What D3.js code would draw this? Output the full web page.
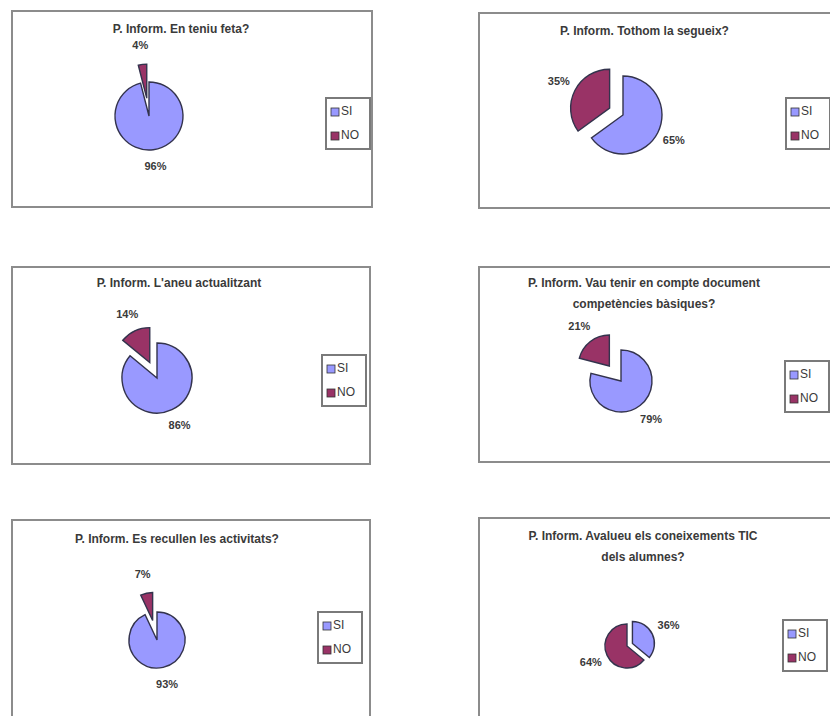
<!DOCTYPE html>
<html>
<head>
<meta charset="utf-8">
<script src="https://cdn.jsdelivr.net/npm/d3@7/dist/d3.min.js"></script>
<style>
  body { margin: 0; background: #ffffff; }
  svg text { font-family: "Liberation Sans", Arial, sans-serif; fill: #3a3a3a; }
</style>
</head>
<body>
<svg id="chart" width="830" height="716"></svg>
<script>
// data
var titles = [
    ["P. Inform. En teniu feta?"],
    ["P. Inform. Tothom la segueix?"],
    ["P. Inform. L'aneu actualitzant"],
    ["P. Inform. Vau tenir en compte document", "competències bàsiques?"],
    ["P. Inform. Es recullen les activitats?"],
    ["P. Inform. Avalueu els coneixements TIC", "dels alumnes?"]
];
var categories = ["SI", "NO"];
var siValues = [96, 65, 86, 79, 93, 36];
var noValues = [4, 35, 14, 21, 7, 64];

// layout of each panel
var panels = [
    { box: [12, 11, 360, 196], cx: 149, cy: 116, r: 34, explode: 1, off: 18, legend: [326, 98], titleY: 30 },
    { box: [479, 13, 360, 195], cx: 623, cy: 115, r: 39, explode: 1, off: 15, legend: [786, 98], titleY: 32 },
    { box: [12, 267, 358, 197], cx: 157, cy: 378, r: 35, explode: 1, off: 17, legend: [322, 355], titleY: 284 },
    { box: [479, 267, 360, 195], cx: 621, cy: 381, r: 31, explode: 1, off: 19, legend: [785, 361], titleY: 284 },
    { box: [12, 520, 358, 220], cx: 157, cy: 640, r: 28, explode: 1, off: 20, legend: [318, 612], titleY: 540 },
    { box: [479, 518, 360, 220], cx: 627, cy: 646, r: 22, explode: 0, off: 6, legend: [783, 620], titleY: 537 }
];

var color = d3.scaleOrdinal().domain(categories).range(["#9999ff", "#993366"]);

var svg = d3.select("#chart");

var pie = d3.pie()
    .sort(null)
    .value(function (d) { return d.value; });

panels.forEach(function (p, i) {
    var g = svg.append("g");

    g.append("rect")
        .attr("x", p.box[0])
        .attr("y", p.box[1])
        .attr("width", p.box[2])
        .attr("height", p.box[3])
        .attr("fill", "#ffffff")
        .attr("stroke", "#8c8c8c")
        .attr("stroke-width", 2);

    // title, centered on the plot area
    var tx = p.box[0] + (p.legend[0] - p.box[0]) / 2 + 12;
    titles[i].forEach(function (line, k) {
        g.append("text")
            .attr("x", tx)
            .attr("y", p.titleY + k * 21)
            .attr("text-anchor", "middle")
            .attr("dominant-baseline", "middle")
            .attr("font-size", 12)
            .attr("font-weight", "bold")
            .attr("fill", "#505050")
            .text(line);
    });

    var rows = categories.map(function (c, j) {
        return { cat: c, value: j == 0 ? siValues[i] : noValues[i] };
    });
    var arcs = pie(rows);

    var arc = d3.arc().innerRadius(0).outerRadius(p.r);
    var labelArc = d3.arc();

    arcs.forEach(function (a, j) {
        var mid = (a.startAngle + a.endAngle) / 2;
        var e = (j == p.explode) ? p.off : 0;
        var dx = Math.sin(mid) * e, dy = -Math.cos(mid) * e;

        g.append("path")
            .attr("d", arc(a))
            .attr("transform", "translate(" + (p.cx + dx) + "," + (p.cy + dy) + ")")
            .attr("fill", color(a.data.cat))
            .attr("stroke", "#33334d")
            .attr("stroke-width", 1.4);

        var lr = p.r + e + 18;
        var c = labelArc.innerRadius(lr).outerRadius(lr).centroid(a);
        g.append("text")
            .attr("x", p.cx + c[0])
            .attr("y", p.cy + c[1])
            .attr("text-anchor", "middle")
            .attr("dominant-baseline", "middle")
            .attr("font-size", 11)
            .attr("font-weight", "bold")
            .attr("fill", "#555555")
            .text(a.data.value + "%");
    });

    // legend
    var lg = g.append("g").attr("transform", "translate(" + p.legend[0] + "," + p.legend[1] + ")");
    lg.append("rect")
        .attr("width", 44)
        .attr("height", 51)
        .attr("fill", "#ffffff")
        .attr("stroke", "#7a7a7a")
        .attr("stroke-width", 2);
    categories.forEach(function (c, j) {
        lg.append("rect")
            .attr("x", 5)
            .attr("y", 10 + j * 24)
            .attr("width", 8)
            .attr("height", 8)
            .attr("fill", color(c))
            .attr("stroke", "#333333")
            .attr("stroke-width", 0.8);
        lg.append("text")
            .attr("x", 15)
            .attr("y", 14 + j * 24)
            .attr("dominant-baseline", "middle")
            .attr("font-size", 12)
            .attr("fill", "#3a3a3a")
            .text(c);
    });
});
</script>
</body>
</html>
